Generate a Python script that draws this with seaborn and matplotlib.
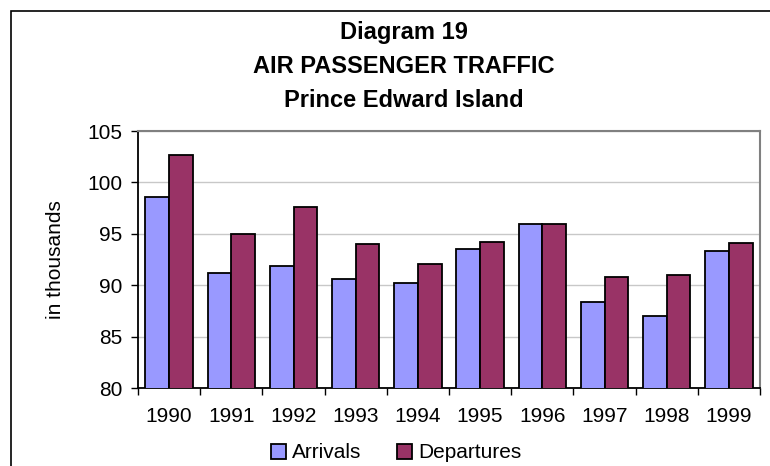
import pandas as pd
import matplotlib.pyplot as plt
import seaborn as sns
from matplotlib.patches import Patch, Rectangle

# Data (in thousands)
years = ['1990', '1991', '1992', '1993', '1994', '1995', '1996', '1997', '1998', '1999']
arrivals = [98.6, 91.2, 91.9, 90.6, 90.2, 93.5, 96.0, 88.4, 87.0, 93.3]
departures = [102.7, 95.0, 97.6, 94.0, 92.1, 94.2, 96.0, 90.8, 91.0, 94.1]
series = ['Arrivals', 'Departures']
colors = {'Arrivals': '#9999FF', 'Departures': '#993366'}

data = pd.DataFrame({
    'year': years * 2,
    'value': arrivals + departures,
    'series': [series[0]] * len(years) + [series[1]] * len(years),
})

sns.set_style('white')
plt.rcParams['font.family'] = ['Liberation Sans', 'DejaVu Sans']
plt.rcParams['text.color'] = 'black'
plt.rcParams['axes.labelcolor'] = 'black'
plt.rcParams['xtick.color'] = 'black'
plt.rcParams['ytick.color'] = 'black'

fig = plt.figure(figsize=(7.7, 4.66), dpi=100)
ax = fig.add_axes([138 / 770, 1 - 388 / 466, 622 / 770, 257 / 466])

sns.barplot(data=data, x='year', y='value', hue='series', palette=colors,
            saturation=1, width=0.76, edgecolor='black', linewidth=1.3,
            legend=False, ax=ax, zorder=3)

# Axes styling
ax.set_ylim(80, 105)
ax.set_yticks(range(80, 106, 5))
ax.set_xlim(-0.5, len(years) - 0.5)
ax.yaxis.grid(True, color='#c8c8c8', linewidth=1, zorder=0)
ax.set_axisbelow(True)
ax.set_xlabel('')
ax.set_ylabel('in thousands', fontsize=15)
ax.yaxis.set_label_coords(-0.117, 0.5)

for side in ['top', 'right']:
    ax.spines[side].set_color('#808080')
    ax.spines[side].set_linewidth(1.5)
for side in ['left', 'bottom']:
    ax.spines[side].set_color('black')
    ax.spines[side].set_linewidth(1.3)

ax.tick_params(axis='y', direction='out', length=5, width=1, color='black',
               labelsize=15, pad=6, left=True)
ax.tick_params(axis='x', which='major', length=0, labelsize=15, pad=14)
ax.set_xticks([i + 0.5 for i in range(-1, len(years))], minor=True)
ax.tick_params(axis='x', which='minor', direction='out', length=5, width=1,
               color='black', bottom=True)

# Title lines
title_lines = ['Diagram 19', 'AIR PASSENGER TRAFFIC', 'Prince Edward Island']
for line, base in zip(title_lines, [39, 73, 107]):
    fig.text(404 / 770, 1 - base / 466, line, ha='center', va='baseline',
             fontsize=17, fontweight='bold')

# Legend
handles = [Patch(facecolor=colors[s], edgecolor='black', linewidth=1.3) for s in series]
fig.legend(handles, series, loc='center', bbox_to_anchor=(396 / 770, 1 - 453 / 466),
           ncol=2, frameon=False, fontsize=15, handlelength=0.72,
           handleheight=0.7, handletextpad=0.3, columnspacing=1.7,
           borderaxespad=0, borderpad=0)

# Outer chart frame (cut off at right and bottom like the reference)
fig.patches.append(Rectangle((11 / 770, -0.1), 1.2, 1.1 - 11 / 466,
                             transform=fig.transFigure, fill=False,
                             edgecolor='black', linewidth=1.2))

fig.savefig('out.png', dpi=100)
